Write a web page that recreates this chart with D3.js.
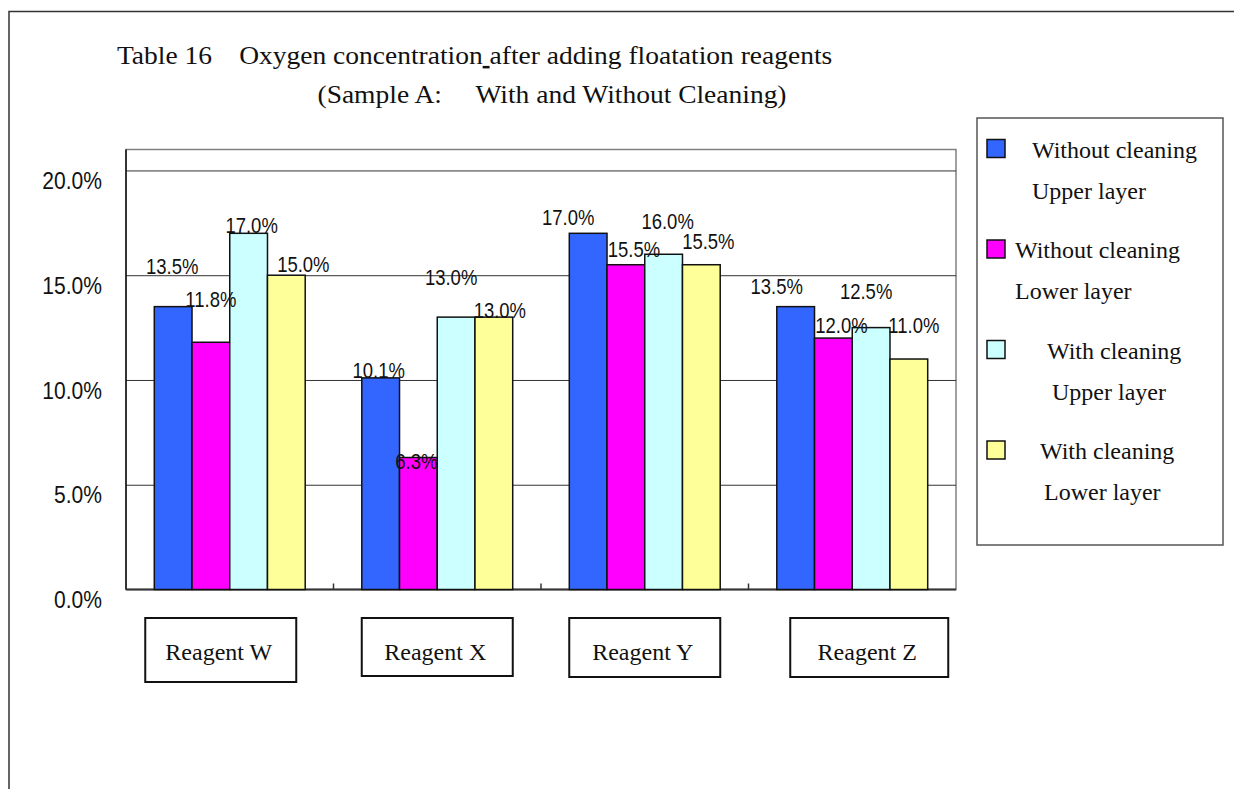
<!DOCTYPE html>
<html>
<head>
<meta charset="utf-8">
<script src="https://cdn.jsdelivr.net/npm/d3@7"></script>
<style>
  body { margin: 0; background: #fff; }
  text { white-space: pre; }
</style>
</head>
<body>
<svg id="chart" width="1234" height="789"></svg>
<script>
// data
var categories = ["Reagent W", "Reagent X", "Reagent Y", "Reagent Z"];
var seriesKeys = ["woUpper", "woLower", "wUpper", "wLower"];
var legendLines = [
    ["Without cleaning", "Upper layer"],
    ["Without cleaning", "Lower layer"],
    ["With cleaning", "Upper layer"],
    ["With cleaning", "Lower layer"]
];
var woUpper = [0.135, 0.101, 0.170, 0.135];
var woLower = [0.118, 0.063, 0.155, 0.120];
var wUpper  = [0.170, 0.130, 0.160, 0.125];
var wLower  = [0.150, 0.130, 0.155, 0.110];
var yTicks = [0, 0.05, 0.10, 0.15, 0.20];
var yMax = 0.21;

var colors = ["#3366ff", "#ff00ff", "#ccffff", "#ffff99"];

// hand placed labels in the original (px nudges from the default spot)
var labelNudge = [
    [[-1, -28], [0, -31], [3, 4], [17, 1]],
    [[-2, 4], [-2, 16], [-5, -28], [6, 5]],
    [[-20, -4], [8, -3], [4, -21], [7, -11]],
    [[-19, -8], [8, -1], [-5, -24], [5, -22]]
];
// category text boxes: [dx from band centre, width, height]
var catBox = [[-9, 151, 64], [0, 151, 58], [0, 151, 59], [17, 158, 59]];
// legend text starts, from legend left edge
var legendIndent = [[55, 55], [38, 38], [70, 75], [63, 67]];

var svg = d3.select("#chart");
var plotL = 126, plotR = 956, plotT = 149.5, plotB = 589.5;
var narrow = 0.86;   // the original's sans face is condensed
var wide = 1.1;      // and its serif face is wider than Liberation Serif

// outer frame (only top and left show)
svg.append("rect")
    .attr("x", 9).attr("y", 11.5)
    .attr("width", 1300).attr("height", 900)
    .attr("fill", "none").attr("stroke", "#333").attr("stroke-width", 1.5);

// titles
var title = svg.append("text")
    .attr("transform", "translate(117,64) scale(" + wide + ",1)")
    .attr("font-family", "Liberation Serif").attr("font-size", 25).attr("fill", "#111");
title.append("tspan").text("Table 16\u3000Oxygen concentration");
title.append("tspan").attr("text-decoration", "underline").text(" ");
title.append("tspan").text("after adding floatation reagents");

svg.append("text")
    .attr("transform", "translate(552,103) scale(" + wide + ",1)")
    .attr("text-anchor", "middle")
    .attr("font-family", "Liberation Serif").attr("font-size", 25).attr("fill", "#111")
    .text("(Sample A:\u3000 With and Without Cleaning)");

var x0 = d3.scaleBand().domain(categories).range([plotL, plotR]);
var x1 = d3.scaleBand().domain(seriesKeys)
    .range([x0.bandwidth() * 0.75 / 5.5, x0.bandwidth() * 4.75 / 5.5]);
var y = d3.scaleLinear().domain([0, yMax]).range([plotB, plotT]);

// plot area border
svg.append("rect")
    .attr("x", plotL).attr("y", plotT)
    .attr("width", plotR - plotL).attr("height", plotB - plotT)
    .attr("fill", "none").attr("stroke", "#808080").attr("stroke-width", 1.5);

// gridlines
var grid = svg.append("g")
    .attr("transform", "translate(" + plotL + ",0)")
    .call(d3.axisLeft(y).tickValues(yTicks.slice(1)).tickSize(-(plotR - plotL)).tickFormat(""));
grid.select(".domain").remove();
grid.selectAll("line").attr("stroke", "#333").attr("stroke-width", 1);

// y labels
svg.selectAll("text.ylab")
    .data(yTicks)
    .join("text")
    .attr("class", "ylab")
    .attr("transform", function(d) { return "translate(102," + (y(d) + 18.6) + ") scale(" + narrow + ",1)"; })
    .attr("text-anchor", "end")
    .attr("font-family", "Liberation Sans").attr("font-size", 24.5).attr("fill", "#111")
    .text(d3.format(".1%"));

// axes lines
svg.append("line")
    .attr("x1", plotL).attr("x2", plotL).attr("y1", plotT).attr("y2", plotB)
    .attr("stroke", "#111").attr("stroke-width", 1.5);
svg.append("line")
    .attr("x1", plotL).attr("x2", plotR).attr("y1", plotB).attr("y2", plotB)
    .attr("stroke", "#333").attr("stroke-width", 2);
svg.selectAll("line.xtick")
    .data(categories.slice(1))
    .join("line")
    .attr("class", "xtick")
    .attr("x1", function(d) { return x0(d); }).attr("x2", function(d) { return x0(d); })
    .attr("y1", plotB).attr("y2", plotB - 6)
    .attr("stroke", "#333").attr("stroke-width", 1.5);

// bars
var table = categories.map(function(c, i) {
    return {cat: c, values: [woUpper[i], woLower[i], wUpper[i], wLower[i]]};
});

var groups = svg.selectAll("g.grp")
    .data(table)
    .join("g")
    .attr("class", "grp")
    .attr("transform", function(d) { return "translate(" + x0(d.cat) + ",0)"; });

groups.selectAll("rect")
    .data(function(d) { return d.values.map(function(v, k) { return {key: seriesKeys[k], v: v, k: k}; }); })
    .join("rect")
    .attr("x", function(d) { return x1(d.key); })
    .attr("y", function(d) { return y(d.v); })
    .attr("width", x1.bandwidth())
    .attr("height", function(d) { return plotB - y(d.v); })
    .attr("fill", function(d) { return colors[d.k]; })
    .attr("stroke", "#111").attr("stroke-width", 1.5);

groups.each(function(d, i) {
    d3.select(this).selectAll("text.val")
        .data(d.values)
        .join("text")
        .attr("class", "val")
        .attr("transform", function(v, k) {
            var cx = x1(seriesKeys[k]) + x1.bandwidth() / 2 + labelNudge[i][k][0];
            var cy = y(v) - 12 + labelNudge[i][k][1];
            return "translate(" + cx + "," + (cy + 7.7) + ") scale(" + narrow + ",1)";
        })
        .attr("text-anchor", "middle")
        .attr("font-family", "Liberation Sans").attr("font-size", 21.5).attr("fill", "#111")
        .text(d3.format(".1%"));
});

// category boxes under the axis
categories.forEach(function(c, i) {
    var cx = x0(c) + x0.bandwidth() / 2 + catBox[i][0];
    svg.append("rect")
        .attr("x", cx - catBox[i][1] / 2).attr("y", 618)
        .attr("width", catBox[i][1]).attr("height", catBox[i][2])
        .attr("fill", "#fff").attr("stroke", "#111").attr("stroke-width", 2);
    svg.append("text")
        .attr("x", cx - 2).attr("y", 660)
        .attr("text-anchor", "middle")
        .attr("font-family", "Liberation Serif").attr("font-size", 24).attr("fill", "#111")
        .text(c);
});

// legend
var lg = svg.append("g").attr("transform", "translate(977,118)");
lg.append("rect")
    .attr("width", 246).attr("height", 427)
    .attr("fill", "#fff").attr("stroke", "#555").attr("stroke-width", 1.5);

legendLines.forEach(function(lines, i) {
    var ty = 21.5 + i * 100.5;
    lg.append("rect")
        .attr("x", 10).attr("y", ty)
        .attr("width", 18).attr("height", 18)
        .attr("fill", colors[i]).attr("stroke", "#111").attr("stroke-width", 1.5);
    lines.forEach(function(s, j) {
        lg.append("text")
            .attr("x", legendIndent[i][j]).attr("y", ty + 18 + j * 41)
            .attr("font-family", "Liberation Serif").attr("font-size", 24).attr("fill", "#111")
            .text(s);
    });
});
</script>
</body>
</html>
